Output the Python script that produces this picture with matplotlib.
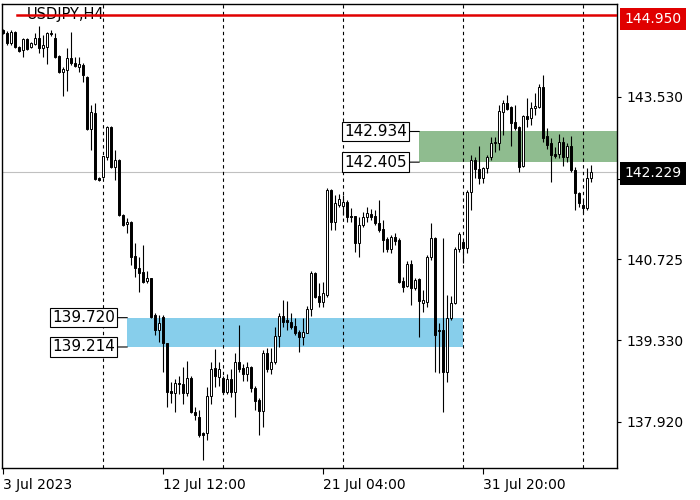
import matplotlib
matplotlib.use("Agg")
import matplotlib.pyplot as plt
from matplotlib.patches import Rectangle
import numpy as np

symbol_title = "USDJPY,H4"

opens = [
    144.69, 144.63, 144.46, 144.65, 144.39, 144.34, 144.53, 144.39, 144.44, 144.55,
    144.38, 144.39, 144.63, 144.55, 144.24, 143.96, 143.99, 144.20, 144.12, 144.05,
    144.08, 143.88, 142.98, 143.25, 142.13, 142.15, 142.49, 143.01, 142.32, 142.44,
    141.49, 141.34, 141.37, 140.79, 140.58, 140.51, 140.35, 140.41, 139.77, 139.51,
    139.73, 139.28, 138.45, 138.42, 138.59, 138.58, 138.42, 138.68, 138.09, 138.01,
    137.73, 137.73, 138.37, 138.85, 138.70, 138.68, 138.44, 138.66, 138.44, 138.96,
    138.85, 138.75, 138.87, 138.51, 138.30, 138.11, 139.11, 138.84, 138.96, 139.40,
    139.75, 139.68, 139.65, 139.58, 139.47, 139.39, 139.46, 139.87, 140.49, 140.09,
    139.99, 140.11, 141.92, 141.37, 141.67, 141.65, 141.72, 141.48, 141.48, 141.01,
    141.32, 141.46, 141.51, 141.48, 141.36, 141.25, 141.08, 140.91, 141.11, 141.06,
    140.35, 140.27, 140.65, 140.23, 140.39, 139.97, 139.99, 140.77, 141.10, 139.51,
    139.51, 138.78, 139.71, 139.97, 140.91, 141.03, 140.92, 141.89, 142.44, 142.29,
    142.13, 142.30, 142.49, 142.74, 142.74, 143.27, 143.43, 143.36, 143.10, 143.01,
    142.34, 143.20, 143.17, 143.34, 143.36, 143.70, 142.86, 142.74, 142.55, 142.55,
    142.75, 142.49, 142.68, 142.27, 141.87, 141.67, 141.61, 142.13,
]

closes = [
    144.63, 144.46, 144.65, 144.39, 144.32, 144.53, 144.36, 144.46, 144.55, 144.38,
    144.43, 144.63, 144.62, 144.22, 143.96, 144.01, 144.20, 144.12, 144.07, 144.10,
    143.91, 142.98, 143.27, 142.11, 142.10, 142.51, 143.01, 142.32, 142.44, 141.49,
    141.32, 141.37, 140.77, 140.58, 140.49, 140.34, 140.41, 139.73, 139.50, 139.63,
    139.28, 138.44, 138.42, 138.59, 138.58, 138.42, 138.68, 138.09, 138.04, 137.70,
    137.70, 138.37, 138.84, 138.71, 138.84, 138.44, 138.66, 138.44, 138.96, 138.84,
    138.75, 138.87, 138.51, 138.28, 138.11, 139.11, 138.84, 138.96, 139.40, 139.75,
    139.65, 139.65, 139.56, 139.46, 139.39, 139.47, 139.87, 140.49, 140.08, 139.99,
    140.15, 141.92, 141.37, 141.70, 141.77, 141.72, 141.46, 141.46, 141.01, 141.32,
    141.46, 141.53, 141.46, 141.36, 141.23, 141.06, 140.91, 141.11, 141.04, 140.34,
    140.25, 140.65, 140.23, 140.37, 140.01, 140.03, 140.77, 141.10, 139.42, 139.49,
    138.78, 139.71, 139.97, 140.91, 141.17, 140.92, 141.89, 142.44, 142.29, 142.13,
    142.30, 142.49, 142.74, 142.75, 143.29, 143.43, 143.32, 143.08, 142.99, 142.32,
    143.20, 143.15, 143.34, 143.37, 143.70, 142.82, 142.70, 142.53, 142.51, 142.75,
    142.49, 142.68, 142.27, 141.87, 141.70, 141.61, 142.13, 142.229,
]

highs = [
    144.70, 144.67, 144.69, 144.67, 144.41, 144.55, 144.55, 144.48, 144.63, 144.76,
    144.60, 144.65, 144.69, 144.63, 144.26, 144.05, 144.38, 144.65, 144.22, 144.22,
    144.12, 143.89, 143.39, 143.43, 142.15, 142.51, 143.03, 143.03, 142.61, 142.46,
    141.51, 141.44, 141.39, 141.01, 140.77, 140.98, 140.53, 140.41, 139.80, 139.77,
    139.77, 139.28, 138.61, 138.66, 138.72, 138.87, 138.97, 138.71, 138.18, 138.13,
    137.75, 138.52, 138.96, 139.18, 138.96, 138.71, 138.75, 138.84, 139.11, 139.59,
    138.92, 138.96, 138.89, 138.54, 138.33, 139.17, 139.20, 139.20, 139.56, 139.80,
    140.03, 140.01, 139.80, 139.71, 139.51, 139.71, 139.92, 140.53, 140.51, 140.32,
    140.34, 141.95, 141.94, 141.84, 141.86, 141.84, 141.75, 141.61, 141.48, 141.46,
    141.54, 141.63, 141.60, 141.58, 141.75, 141.41, 141.11, 141.15, 141.18, 141.10,
    140.42, 140.69, 140.72, 140.41, 140.41, 140.20, 140.80, 141.35, 141.11, 139.63,
    141.10, 140.11, 140.09, 140.94, 141.20, 141.06, 141.92, 142.53, 142.49, 142.68,
    142.32, 142.53, 142.84, 142.84, 143.39, 143.48, 143.56, 143.37, 143.39, 143.03,
    143.22, 143.51, 143.44, 143.60, 143.75, 143.91, 142.99, 142.82, 142.67, 142.89,
    142.84, 142.74, 142.86, 142.32, 141.89, 141.75, 142.30, 142.36,
]

lows = [
    144.62, 144.43, 144.43, 144.38, 144.31, 144.22, 144.34, 144.38, 144.43, 144.29,
    144.22, 144.10, 144.58, 144.20, 143.94, 143.55, 143.63, 144.08, 144.05, 143.96,
    143.79, 142.96, 142.61, 142.10, 142.08, 142.13, 142.44, 142.30, 142.10, 141.48,
    141.30, 141.18, 140.63, 140.42, 140.16, 140.32, 140.32, 139.71, 139.42, 139.30,
    138.78, 138.18, 138.25, 138.09, 138.40, 138.23, 138.37, 138.07, 137.95, 137.66,
    137.26, 137.61, 138.23, 138.52, 138.54, 138.40, 138.40, 138.35, 138.01, 138.78,
    138.63, 138.63, 138.44, 138.13, 137.70, 137.83, 138.79, 138.75, 138.92, 139.21,
    139.56, 139.51, 139.53, 139.42, 139.13, 139.25, 139.45, 139.75, 140.06, 139.90,
    139.90, 140.08, 141.24, 141.23, 141.63, 141.49, 141.37, 141.37, 140.85, 140.77,
    141.29, 141.37, 141.41, 141.32, 141.20, 140.85, 140.85, 140.84, 140.98, 140.32,
    140.16, 140.25, 139.94, 140.20, 139.39, 139.82, 139.90, 140.72, 138.78, 138.77,
    138.09, 138.61, 139.68, 139.96, 140.85, 140.66, 140.84, 141.58, 142.13, 142.03,
    142.05, 142.22, 142.44, 142.58, 142.61, 142.87, 143.30, 142.68, 142.96, 142.24,
    142.32, 143.01, 143.05, 143.22, 143.34, 142.75, 142.63, 142.06, 142.48, 142.48,
    142.34, 142.41, 142.24, 141.58, 141.63, 141.53, 141.58, 142.06,
]

x_tick_bars = [0, 40, 80, 120]
x_tick_labels = ["3 Jul 2023", "12 Jul 12:00", "21 Jul 04:00", "31 Jul 20:00"]
week_starts = [25, 55, 85, 115, 145]
y_ticks = [137.920, 139.330, 140.725, 142.120, 143.530]

resistance_level = 144.950
current_price = 142.229
blue_zone_low, blue_zone_high = 139.214, 139.720
blue_zone_start, blue_zone_end = 31, 115
green_zone_low, green_zone_high = 142.405, 142.934
green_zone_start = 104

# ---------------------------------------------------------------------------
fig = plt.figure(figsize=(7, 5), dpi=100)
fig.patch.set_facecolor("white")
ax = fig.add_axes([2 / 700, 32 / 500, 615 / 700, 464 / 500])
ax.set_facecolor("white")

n = len(opens)
x = np.arange(n)
o = np.array(opens)
c = np.array(closes)
h = np.array(highs)
l = np.array(lows)

ax.set_xlim(-0.325, 153.425)
ax.set_ylim(137.125, 145.135)

# zones
ax.add_patch(Rectangle((blue_zone_start, blue_zone_low), blue_zone_end - blue_zone_start,
                       blue_zone_high - blue_zone_low, facecolor="#87ceeb", edgecolor="none", zorder=1))
ax.add_patch(Rectangle((green_zone_start, green_zone_low), 80,
                       green_zone_high - green_zone_low, facecolor="#8fbc8f", edgecolor="none", zorder=1))

# weekly separators
for b in week_starts:
    ax.axvline(b, color="black", lw=0.8, ls=(0, (3, 3)), zorder=1.5)

# current price line
ax.axhline(current_price, color="#c0c0c0", lw=0.8, zorder=1.2)

# candles
ax.vlines(x, l, h, color="black", lw=0.8, zorder=3)
bottoms = np.minimum(o, c)
heights = np.maximum(np.abs(c - o), 0.012)
fcolors = ["white" if cc >= oo else "black" for oo, cc in zip(o, c)]
ax.bar(x, heights, width=0.55, bottom=bottoms, color=fcolors, edgecolor="black",
       linewidth=0.7, zorder=4)

# resistance line
ax.axhline(resistance_level, xmin=0.025, color="#e00000", lw=1.8, zorder=6)

# title
ax.text(0.0407, 0.9784, symbol_title, transform=ax.transAxes, ha="left", va="center",
        fontsize=10.5, color="black", zorder=5)

# zone labels
def zone_label(xb, level):
    ax.annotate(f"{level:.3f}", xy=(xb, level), xytext=(-9, 0), textcoords="offset points",
                ha="right", va="center", fontsize=11, color="black",
                bbox=dict(boxstyle="square,pad=0.15", fc="white", ec="black", lw=0.8),
                arrowprops=dict(arrowstyle="-", color="black", lw=0.8, shrinkA=0, shrinkB=0),
                zorder=7)

zone_label(blue_zone_start, blue_zone_high)
zone_label(blue_zone_start, blue_zone_low)
zone_label(green_zone_start, green_zone_high)
zone_label(green_zone_start, green_zone_low)

# axes styling
for sp in ax.spines.values():
    sp.set_color("black")
    sp.set_linewidth(1.0)

ax.yaxis.tick_right()
ax.set_yticks(y_ticks)
ax.set_yticklabels([f"{v:.3f}" for v in y_ticks])
ax.tick_params(axis="y", direction="out", length=3, width=0.8, pad=4, labelsize=10, colors="black")

ax.set_xticks(x_tick_bars)
ax.set_xticklabels(x_tick_labels, ha="left")
ax.tick_params(axis="x", direction="out", length=4, width=0.8, pad=3, labelsize=10, colors="black")

# right price labels
yt = ax.get_yaxis_transform()
ax.annotate(f"{resistance_level:.3f}", xy=(1, resistance_level), xycoords=yt,
            xytext=(5.5, -3), textcoords="offset points", ha="left", va="center",
            fontsize=10, color="white", annotation_clip=False, zorder=10,
            bbox=dict(boxstyle="square,pad=0.3", fc="#e00000", ec="none"))
ax.annotate(f"{current_price:.3f}", xy=(1, current_price), xycoords=yt,
            xytext=(5.5, -0.8), textcoords="offset points", ha="left", va="center",
            fontsize=10, color="white", annotation_clip=False, zorder=10,
            bbox=dict(boxstyle="square,pad=0.3", fc="black", ec="none"))

fig.savefig("out.png", dpi=100, facecolor="white")
